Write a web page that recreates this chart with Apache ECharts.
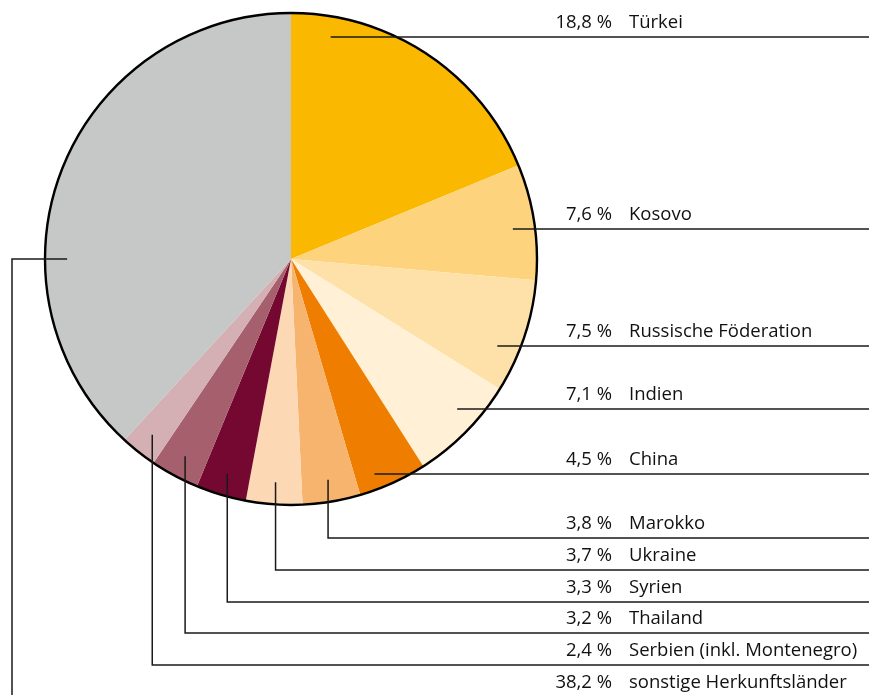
<!DOCTYPE html>
<html>
<head>
<meta charset="utf-8">
<script src="https://cdn.jsdelivr.net/npm/echarts@6/dist/echarts.min.js"></script>
<style>
html,body{margin:0;padding:0;background:#fff;}
#main{width:869px;height:695px;}
</style>
</head>
<body>
<div id="main"></div>
<script>
// ---- data ----
var categories = ['Türkei','Kosovo','Russische Föderation','Indien','China','Marokko','Ukraine','Syrien','Thailand','Serbien (inkl. Montenegro)','sonstige Herkunftsländer'];
var values = [18.8, 7.6, 7.5, 7.1, 4.5, 3.8, 3.7, 3.3, 3.2, 2.4, 38.2];
var pctLabels = ['18,8 %','7,6 %','7,5 %','7,1 %','4,5 %','3,8 %','3,7 %','3,3 %','3,2 %','2,4 %','38,2 %'];
var colors = ['#FAB900','#FDD37D','#FEE1A9','#FFF0D6','#EF7D00','#F6B46F','#FCD8B4','#750830','#A6606D','#D4AFB3','#C6C7C7'];

// ---- layout ----
var W = 869, H = 695;
var CX = 291, CY = 259, R = 246;
var rowY = [37, 229, 346, 409, 474, 538, 570, 602, 633, 665, 697];
var leaderMode = ['right','right','right','right','right','down','down','down','down','down','left'];
var pctRight = 612, nameLeft = 629;
var leftX = 12;
var FONT = '"Open Sans", Lato, sans-serif';
var FSIZE = 18.5;

var chart = echarts.init(document.getElementById('main'), null, {renderer:'canvas'});

var total = values.reduce(function(a,b){return a+b;},0);
var graphics = [];
var rIn = R * 0.91;
var cum = 0;
var lineStyle = {stroke:'#1a1a1a', lineWidth:1.5, fill:null};
for (var i = 0; i < values.length; i++) {
  var a0 = cum / total * 360;
  cum += values[i];
  var a1 = cum / total * 360;
  var span = a1 - a0;
  var y = rowY[i];
  var pts;
  if (leaderMode[i] === 'right') {
    var dy = y - CY;
    var dx = Math.sqrt(Math.max(0, rIn*rIn - dy*dy));
    var ang = Math.atan2(dx, -dy) * 180 / Math.PI; // from top, clockwise
    var lo = a0 + 0.15*span, hi = a1 - 0.3*span;
    ang = Math.min(Math.max(ang, lo), hi);
    var rad = ang*Math.PI/180;
    var t = dy / (-Math.cos(rad));
    var sx = CX + Math.sin(rad)*t;
    pts = [[sx, y],[W, y]];
  } else if (leaderMode[i] === 'down') {
    var mid = (a0 + a1)/2 * Math.PI/180;
    var sx2 = CX + Math.sin(mid)*rIn, sy2 = CY - Math.cos(mid)*rIn;
    pts = [[sx2, sy2],[sx2, y],[W, y]];
  } else {
    var sx3 = CX - rIn;
    pts = [[sx3, CY],[leftX, CY],[leftX, y],[W, y]];
  }
  graphics.push({type:'polyline', z:10, shape:{points:pts}, style:lineStyle, silent:true});
  graphics.push({type:'text', z:10, x:pctRight, y:y-5,
    style:{text:pctLabels[i], fill:'#111', font:FSIZE+'px '+FONT, textAlign:'right', textVerticalAlign:'bottom'}});
  graphics.push({type:'text', z:10, x:nameLeft, y:y-5,
    style:{text:categories[i], fill:'#111', font:FSIZE+'px '+FONT, textAlign:'left', textVerticalAlign:'bottom'}});
}
graphics.push({type:'circle', z:9, shape:{cx:CX, cy:CY, r:R}, style:{fill:null, stroke:'#000', lineWidth:2.4}, silent:true});

chart.setOption({
  animation:false,
  backgroundColor:'#fff',
  series:[{
    type:'pie',
    center:[CX, CY],
    radius:[0, R],
    startAngle:90,
    clockwise:true,
    label:{show:false},
    labelLine:{show:false},
    emphasis:{disabled:true},
    itemStyle:{borderWidth:0},
    data: categories.map(function(c,i){return {name:c, value:values[i], itemStyle:{color:colors[i]}};})
  }],
  graphic: graphics
});
</script>
</body>
</html>
